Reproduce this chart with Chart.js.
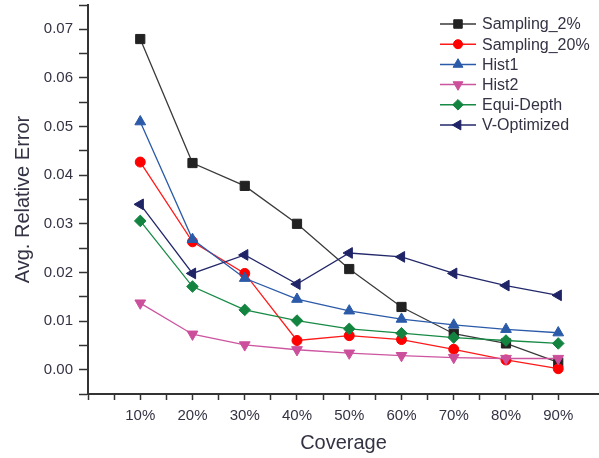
<!DOCTYPE html>
<html>
<head>
<meta charset="utf-8">
<script src="https://cdn.jsdelivr.net/npm/chart.js@4.4.1/dist/chart.umd.min.js"></script>
<style>
html, body { margin: 0; padding: 0; background: #fff; overflow: hidden; }
#wrap { width: 599px; height: 458px; position: relative; }
canvas { display: block; }
</style>
</head>
<body>
<div id="wrap"><canvas id="myChart"></canvas></div>
<script>
var coverage = [10, 20, 30, 40, 50, 60, 70, 80, 90];
var seriesNames = ["Sampling_2%", "Sampling_20%", "Hist1", "Hist2", "Equi-Depth", "V-Optimized"];
var sampling2  = [0.0680, 0.0425, 0.0378, 0.0300, 0.0207, 0.0129, 0.0074, 0.0054, 0.0015];
var sampling20 = [0.0427, 0.0263, 0.0198, 0.0060, 0.0070, 0.0062, 0.0042, 0.0020, 0.0002];
var hist1      = [0.0510, 0.0268, 0.0188, 0.0145, 0.0121, 0.0104, 0.0092, 0.0083, 0.0076];
var hist2      = [0.0137, 0.0073, 0.0051, 0.0041, 0.0034, 0.0029, 0.0025, 0.0023, 0.0023];
var equiDepth  = [0.0306, 0.0171, 0.0123, 0.0101, 0.0084, 0.0075, 0.0066, 0.0060, 0.0054];
var vOptimized = [0.0340, 0.0198, 0.0236, 0.0176, 0.0240, 0.0232, 0.0198, 0.0173, 0.0153];

var seriesValues = [sampling2, sampling20, hist1, hist2, equiDepth, vOptimized];
var lineColors = ["#3a3a3a", "#ff1a1a", "#2a5aa8", "#cc55a0", "#178a45", "#23286a"];
var markColors = ["#222222", "#ff0000", "#2a5aa8", "#cc4f9c", "#128440", "#1f2466"];
var markStyles = ["rect", "circle", "triangle", "triangle", "rectRot", "triangle"];
var markRotation = [0, 0, 0, 180, 0, -90];
var markRadius = [6.5, 5, 6.2, 6.2, 5.8, 6.2];

var textColor = "#333344";
var fontFamily = '"Liberation Sans", Arial, sans-serif';

function toPoints(vals) {
  return vals.map(function (v, i) { return { x: coverage[i], y: v }; });
}

var datasets = seriesNames.map(function (name, i) {
  return {
    label: name,
    data: toPoints(seriesValues[i]),
    borderColor: lineColors[i],
    borderWidth: 1.3,
    backgroundColor: markColors[i],
    pointBackgroundColor: markColors[i],
    pointBorderColor: markColors[i],
    pointBorderWidth: 1,
    pointStyle: markStyles[i],
    pointRotation: markRotation[i],
    pointRadius: markRadius[i],
    tension: 0,
    order: seriesNames.length - i
  };
});

// legend drawn in the top right corner of the plot
var legendBox = {
  id: "legendBox",
  afterDatasetsDraw: function (chart) {
    var ctx = chart.ctx;
    ctx.save();
    chart.data.datasets.forEach(function (ds, i) {
      var y = 24 + i * 20.2;
      ctx.strokeStyle = ds.borderColor;
      ctx.lineWidth = 1.5;
      ctx.beginPath();
      ctx.moveTo(440, y);
      ctx.lineTo(476, y);
      ctx.stroke();
      ctx.fillStyle = ds.pointBackgroundColor;
      ctx.strokeStyle = ds.pointBorderColor;
      ctx.lineWidth = 1;
      Chart.helpers.drawPoint(ctx, {
        pointStyle: ds.pointStyle,
        rotation: ds.pointRotation,
        radius: ds.pointRadius - 0.5,
        borderWidth: 1
      }, 458, y);
      ctx.fillStyle = textColor;
      ctx.font = "16px " + fontFamily;
      ctx.textBaseline = "middle";
      ctx.textAlign = "left";
      ctx.fillText(ds.label, 482, y + 1);
    });
    ctx.restore();
  }
};

new Chart("myChart", {
  type: "line",
  data: { datasets: datasets },
  plugins: [legendBox],
  options: {
    responsive: true,
    maintainAspectRatio: false,
    animation: false,
    layout: { autoPadding: false, padding: { top: 5, right: 0, left: 0, bottom: 0 } },
    plugins: {
      legend: { display: false },
      tooltip: { enabled: false }
    },
    scales: {
      x: {
        type: "linear",
        min: 0,
        max: 97.8,
        afterFit: function (scale) {
          scale.height = 64;
          scale.paddingLeft = 0;
          scale.paddingRight = 0;
        },
        afterBuildTicks: function (scale) {
          scale.ticks = scale.ticks.filter(function (t) {
            return Math.abs(t.value / 5 - Math.round(t.value / 5)) < 1e-6;
          });
        },
        ticks: {
          stepSize: 5,
          autoSkip: false,
          maxRotation: 0,
          padding: 7,
          color: textColor,
          font: { size: 15, family: fontFamily },
          callback: function (v) {
            return (v % 10 === 0 && v >= 10 && v <= 90) ? v + "%" : "";
          }
        },
        grid: {
          drawOnChartArea: false,
          drawTicks: true,
          tickLength: 6,
          tickColor: "#333333",
          tickWidth: 1.5
        },
        border: { display: true, color: "#333333", width: 2 },
        title: {
          display: true,
          text: "Coverage",
          color: textColor,
          font: { size: 20, family: fontFamily },
          padding: { top: 0, bottom: 3 }
        }
      },
      y: {
        min: -0.005,
        max: 0.075,
        afterFit: function (scale) {
          scale.width = 88;
          scale.paddingTop = 0;
          scale.paddingBottom = 0;
        },
        ticks: {
          stepSize: 0.005,
          autoSkip: false,
          padding: 6,
          color: textColor,
          font: { size: 15, family: fontFamily },
          callback: function (v) {
            var k = v * 100;
            return Math.abs(k - Math.round(k)) < 1e-6 && v >= 0 ? v.toFixed(2) : "";
          }
        },
        grid: {
          drawOnChartArea: false,
          drawTicks: true,
          tickLength: 9,
          tickColor: "#333333",
          tickWidth: 1.5
        },
        border: { display: true, color: "#333333", width: 2 },
        title: {
          display: true,
          text: "Avg. Relative Error",
          color: textColor,
          font: { size: 20, family: fontFamily },
          padding: { top: 11, bottom: 0 }
        }
      }
    }
  }
});
</script>
</body>
</html>
